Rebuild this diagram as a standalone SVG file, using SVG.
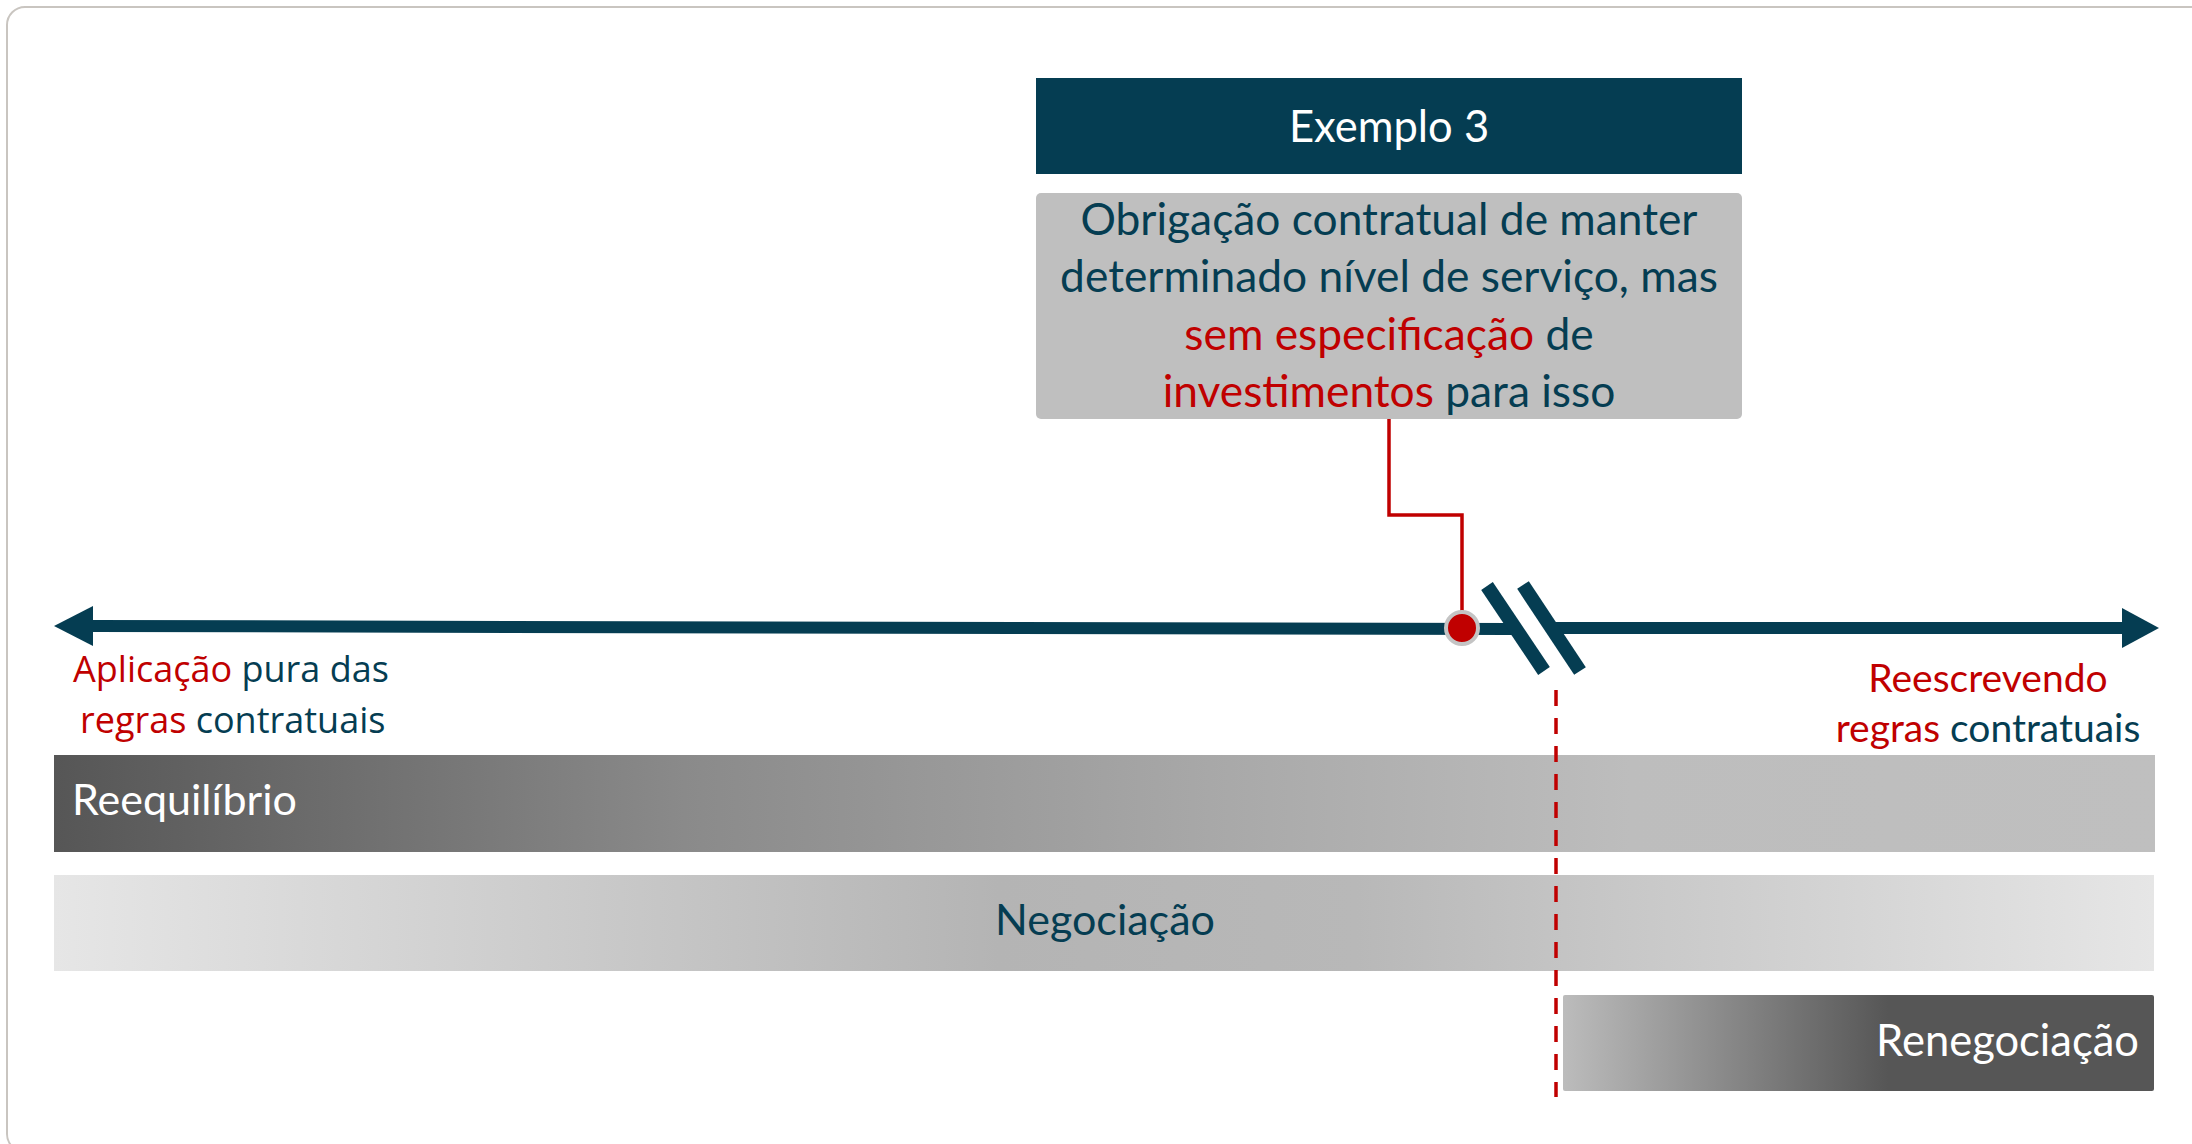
<svg xmlns="http://www.w3.org/2000/svg" width="2192" height="1144" viewBox="0 0 2192 1144">
<defs>
<style>
.cal{font-family:Lato,"Open Sans","Liberation Sans",sans-serif}
.os{font-family:"Open Sans","Noto Sans","Liberation Sans",sans-serif}
.teal{fill:#053d52}
.red{fill:#c00000}
.white{fill:#ffffff}
</style>
<linearGradient id="gRe" x1="0" y1="0" x2="1" y2="0">
<stop offset="0" stop-color="#565656"/>
<stop offset="0.3" stop-color="#8a8a8a"/>
<stop offset="0.55" stop-color="#a8a8a8"/>
<stop offset="0.75" stop-color="#bdbdbd"/>
<stop offset="1" stop-color="#bfbfbf"/>
</linearGradient>
<linearGradient id="gNe" x1="0" y1="0" x2="1" y2="0">
<stop offset="0" stop-color="#e6e6e6"/>
<stop offset="0.45" stop-color="#b4b4b4"/>
<stop offset="0.62" stop-color="#b8b8b8"/>
<stop offset="1" stop-color="#e6e6e6"/>
</linearGradient>
<linearGradient id="gRn" x1="0" y1="0" x2="1" y2="0">
<stop offset="0" stop-color="#bcbcbc"/>
<stop offset="0.55" stop-color="#565656"/>
<stop offset="1" stop-color="#565656"/>
</linearGradient>
</defs>
<rect x="0" y="0" width="2192" height="1144" fill="#ffffff"/>
<rect x="7" y="7" width="2230" height="1145" rx="18" fill="#ffffff" stroke="#c9c5c0" stroke-width="2"/>

<g id="title">
<rect x="1036" y="78" width="706" height="96" fill="#053d52"/>
<text class="cal white" x="1389" y="142" font-size="43.5" text-anchor="middle">Exemplo 3</text>
</g>

<g id="desc">
<rect x="1036" y="193" width="706" height="226" rx="5" fill="#bfbfbf"/>
<text class="cal teal" font-size="44.3" text-anchor="middle"><tspan x="1389" y="235">Obrigação contratual de manter</tspan><tspan x="1389" y="292">determinado nível de serviço, mas</tspan><tspan x="1389" y="350"><tspan class="red">sem especificação</tspan> de</tspan><tspan x="1389" y="407"><tspan class="red">investimentos</tspan> para isso</tspan></text>
</g>

<g id="timeline">
<polygon points="54,626 93,606 93,646" fill="#053d52"/>
<polygon points="92,620 1512,623 1512,635 92,632" fill="#053d52"/>
<rect x="1553" y="622" width="572" height="12" fill="#053d52"/>
<polygon points="2159,628 2122,608 2122,648" fill="#053d52"/>
<line x1="1487" y1="586" x2="1544" y2="671" stroke="#053d52" stroke-width="14"/>
<line x1="1523" y1="585" x2="1580" y2="671" stroke="#053d52" stroke-width="14"/>
</g>

<g id="label-left">
<text class="os" font-size="36"><tspan x="73" y="682"><tspan class="red">Aplicação</tspan><tspan class="teal"> pura das</tspan></tspan><tspan x="80" y="733"><tspan class="red">regras</tspan><tspan class="teal"> contratuais</tspan></tspan></text>
</g>

<g id="label-right">
<text class="cal" font-size="39" text-anchor="middle"><tspan class="red" x="1988" y="692">Reescrevendo</tspan><tspan x="1988" y="742"><tspan class="red">regras</tspan><tspan class="teal"> contratuais</tspan></tspan></text>
</g>

<g id="reequilibrio">
<rect x="54" y="755" width="2101" height="97" fill="url(#gRe)"/>
<text class="cal white" x="72" y="815" font-size="43">Reequilíbrio</text>
</g>

<g id="negociacao">
<rect x="54" y="875" width="2100" height="96" fill="url(#gNe)"/>
<text class="cal teal" x="1105" y="935" font-size="43" text-anchor="middle">Negociação</text>
</g>

<g id="renegociacao">
<rect x="1563" y="995" width="591" height="96" rx="2" fill="url(#gRn)"/>
<text class="cal white" x="2139" y="1056" font-size="43.5" text-anchor="end">Renegociação</text>
</g>

<g id="connectors">
<polyline points="1389,419 1389,515 1462,515 1462,612" fill="none" stroke="#c00000" stroke-width="3.5"/>
<line x1="1556" y1="690" x2="1556" y2="1097" stroke="#c00000" stroke-width="3.5" stroke-dasharray="16,12"/>
<circle cx="1462" cy="628" r="16" fill="#c00000" stroke="#c4c4c4" stroke-width="4"/>
</g>
</svg>
